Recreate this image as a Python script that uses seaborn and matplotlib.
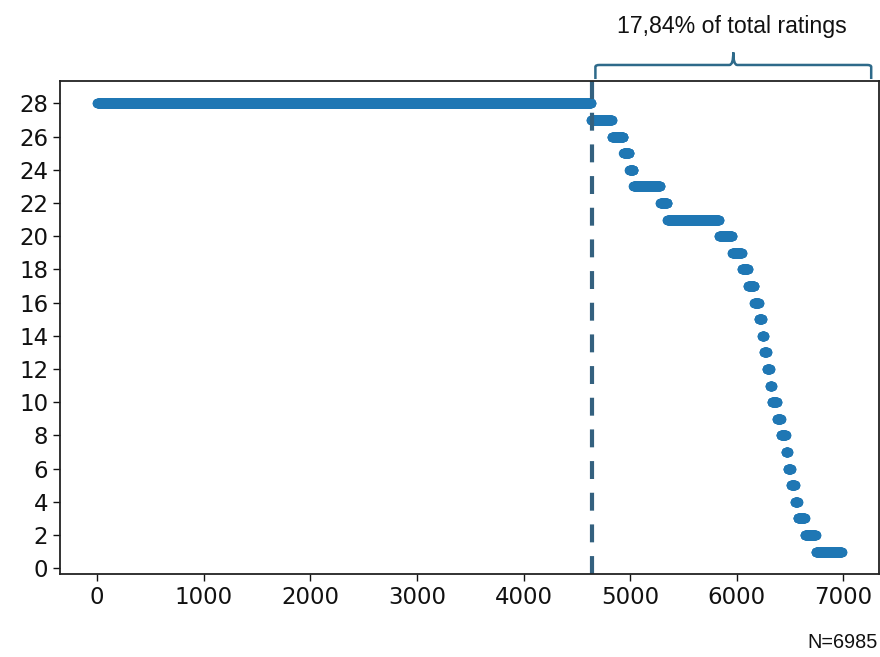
import numpy as np
import pandas as pd
import matplotlib
matplotlib.use("Agg")
import matplotlib.pyplot as plt
from matplotlib.path import Path
from matplotlib.patches import PathPatch
import matplotlib.transforms as mtransforms
import seaborn as sns

# Rating levels (sorted descending) and how many ratings fall on each level
levels = [28, 27, 26, 25, 24, 23, 22, 21, 20, 19, 18, 17, 16, 15,
          14, 13, 12, 11, 10, 9, 8, 7, 6, 5, 4, 3, 2, 1]
counts = [4633, 195, 108, 55, 38, 252, 66, 486, 123, 92, 57, 58, 44, 30,
          18, 27, 29, 18, 48, 36, 47, 19, 29, 37, 27, 66, 103, 244]
x_ticks = [0, 1000, 2000, 3000, 4000, 5000, 6000, 7000]
y_ticks = list(range(0, 29, 2))
share_label = "17,84% of total ratings"
n_label = "N=6985"

values = np.repeat(levels, counts)
df = pd.DataFrame({"rank": np.arange(len(values)), "rating": values})
cut = counts[0]  # first index below the top level

sns.set_style("ticks")
plt.rcParams.update({
    "font.family": ["DejaVu Sans"],
    "xtick.major.size": 5, "ytick.major.size": 5,
    "xtick.major.width": 1, "ytick.major.width": 1,
    "axes.edgecolor": "#222222", "axes.linewidth": 1.3,
})

fig = plt.figure(figsize=(8.8, 6.57), dpi=100)
ax = fig.add_axes([60 / 880, 1 - 574 / 657, 819 / 880, 493 / 657])

sns.scatterplot(data=df, x="rank", y="rating", ax=ax, s=46,
                color="#1f77b4", linewidth=0, legend=False)
ax.margins(0.05)
ax.autoscale_view()
ax.set_xlim(ax.get_xlim())
ax.set_ylim(ax.get_ylim())

ax.axvline(cut + 8, color="#34617f", lw=3, linestyle=(0, (4.3, 3.3)))

ax.set_xticks(x_ticks)
ax.set_yticks(y_ticks)
ax.set_xlabel("")
ax.set_ylabel("")
ax.tick_params(labelsize=16.5, colors="#111111")
for side in ["top", "right", "left", "bottom"]:
    ax.spines[side].set_visible(True)

# Curly bracket above the tail of the distribution
trans = mtransforms.blended_transform_factory(ax.transData, ax.transAxes)
x0, x1 = cut + 40, 7260
xm = (x0 + x1) / 2
r = 37
yb, yl, yt = 1.004, 1.0325, 1.058
verts = [(x0, yb), (x0, yl - 0.004), (x0, yl), (x0 + r, yl),
         (xm - r, yl), (xm, yl), (xm, yt),
         (xm, yl), (xm + r, yl),
         (x1 - r, yl), (x1, yl), (x1, yl - 0.004), (x1, yb)]
codes = [Path.MOVETO, Path.LINETO, Path.CURVE3, Path.CURVE3,
         Path.LINETO, Path.CURVE3, Path.CURVE3,
         Path.CURVE3, Path.CURVE3,
         Path.LINETO, Path.CURVE3, Path.CURVE3, Path.LINETO]
brace = PathPatch(Path(verts, codes), transform=trans, fill=False,
                  edgecolor="#2e6a8a", lw=1.8, clip_on=False)
ax.add_artist(brace)

fig.text(732 / 880, 1 - 27 / 657, share_label, ha="center", va="center",
         fontsize=16.7, family=["Liberation Sans", "DejaVu Sans"], color="#111111")
fig.text(878 / 880, 1 - 648 / 657, n_label, ha="right", va="baseline",
         fontsize=14.3, family=["Liberation Sans", "DejaVu Sans"], color="#111111")

fig.savefig("out.png", dpi=100)
